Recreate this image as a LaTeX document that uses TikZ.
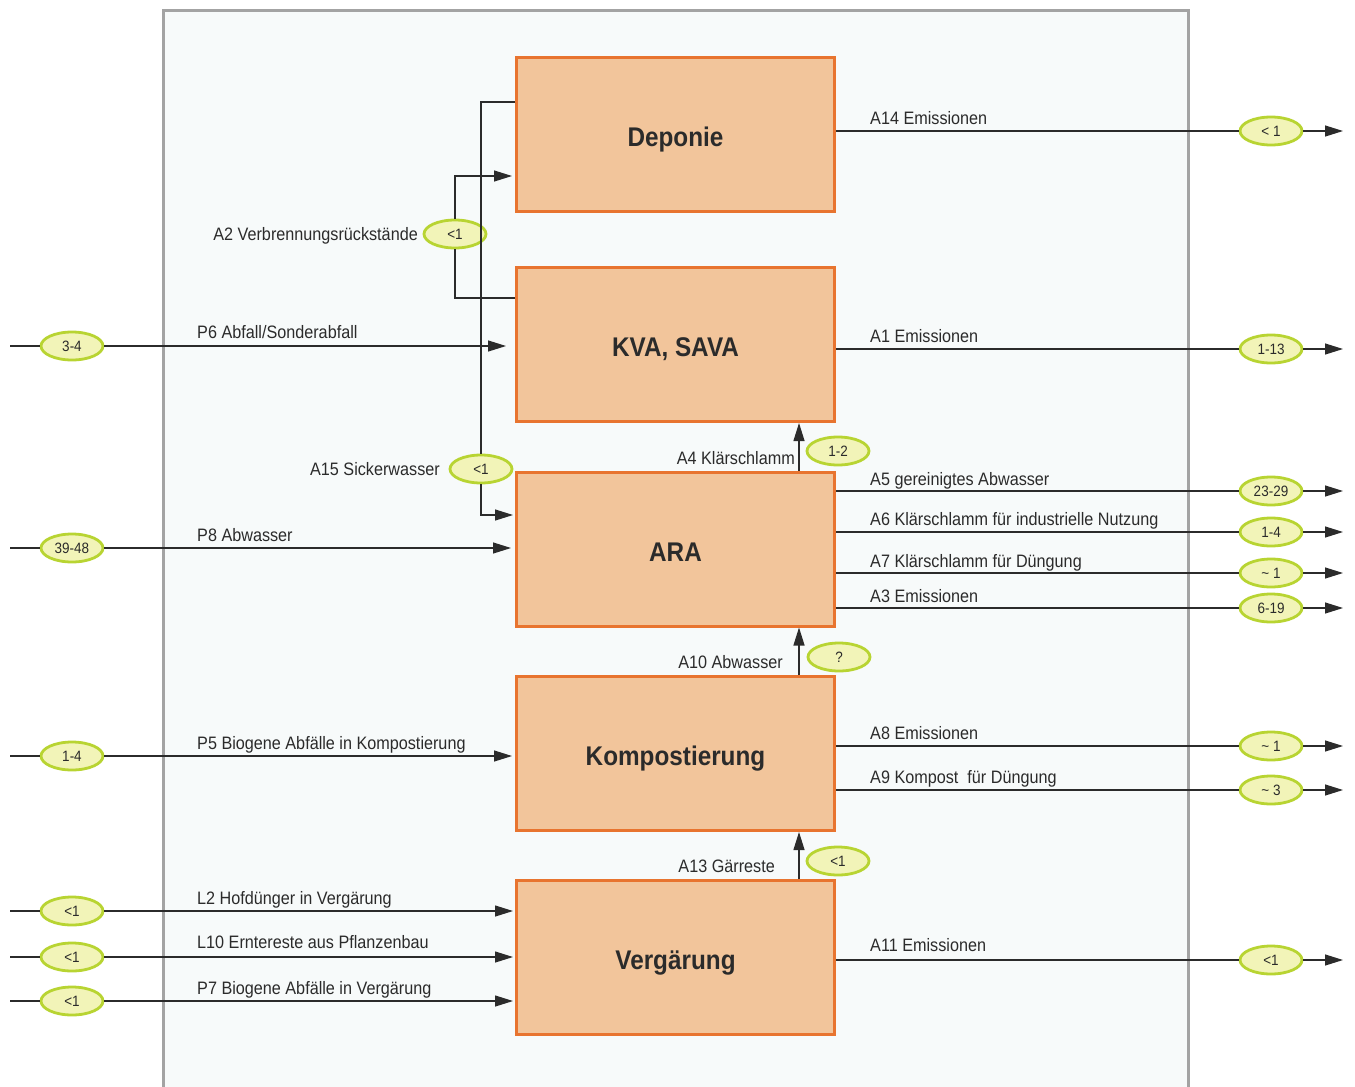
\documentclass[tikz,border=0pt]{standalone}
\usepackage{fontspec}
\setmainfont{Liberation Sans}[FakeStretch=0.9]
\usetikzlibrary{arrows.meta}
\usetikzlibrary{shapes.geometric}

\definecolor{boxfill}{HTML}{F2C59B}
\definecolor{boxline}{HTML}{E8742F}
\definecolor{valfill}{HTML}{F2F4B8}
\definecolor{valline}{HTML}{B8D432}
\definecolor{framefill}{HTML}{F7FAFA}
\definecolor{frameline}{HTML}{A3A3A3}
\definecolor{ink}{HTML}{2B2B2B}

\begin{document}
\begin{tikzpicture}[x=1pt,y=-1pt,
	proc/.style={draw=boxline, fill=boxfill, line width=3pt, minimum width=318pt, minimum height=154pt, text height=24pt, text depth=0pt, font=\fontsize{27}{30}\selectfont\bfseries, text=ink},
	val/.style={ellipse, draw=valline, fill=valfill, line width=2.8pt, minimum width=62pt, minimum height=28pt, inner sep=0pt, font=\fontsize{15}{16}\selectfont, text=ink},
	lbl/.style={font=\fontsize{18}{20}\selectfont, text=ink, inner sep=0pt},
	flow/.style={draw=ink, line width=1.2pt},
	arr/.style={-{Triangle[length=18pt,width=11pt]}}]
	\useasboundingbox (0,0) rectangle (1355,1087);
	\draw[draw=frameline, fill=framefill, line width=3pt] (163,10) rectangle (1188,1100);

	% processes
	\node[proc] (b1) at (675.5,134.5) {Deponie};
	\node[proc] (b2) at (675.5,344.5) {KVA, SAVA};
	\node[proc] (b3) at (675.5,549) {ARA};
	\node[proc] (b4) at (675.5,753.5) {Kompostierung};
	\node[proc] (b5) at (675.5,957.5) {Vergärung};

	% values on the right
	\node[val] (a14) at (1271,131) {< 1};
	\node[val] (a1) at (1271,349) {1-13};
	\node[val] (a5) at (1271,491) {23-29};
	\node[val] (a6) at (1271,532) {1-4};
	\node[val] (a7) at (1271,573) {\char"007E\ 1};
	\node[val] (a3) at (1271,608) {6-19};
	\node[val] (a8) at (1271,746) {\char"007E\ 1};
	\node[val] (a9) at (1271,790) {\char"007E\ 3};
	\node[val] (a11) at (1271,960) {<1};

	\coordinate (o14) at (1343,131);
	\coordinate (o1) at (1343,349);
	\coordinate (o5) at (1343,491);
	\coordinate (o6) at (1343,532);
	\coordinate (o7) at (1343,573);
	\coordinate (o3) at (1343,608);
	\coordinate (o8) at (1343,746);
	\coordinate (o9) at (1343,790);
	\coordinate (o11) at (1343,960);

	\draw[flow] (b1.east |- a14) -- (a14.west);
	\draw[flow,arr] (a14.east) -- (o14);
	\draw[flow] (b2.east |- a1) -- (a1.west);
	\draw[flow,arr] (a1.east) -- (o1);
	\draw[flow] (b3.east |- a5) -- (a5.west);
	\draw[flow,arr] (a5.east) -- (o5);
	\draw[flow] (b3.east |- a6) -- (a6.west);
	\draw[flow,arr] (a6.east) -- (o6);
	\draw[flow] (b3.east |- a7) -- (a7.west);
	\draw[flow,arr] (a7.east) -- (o7);
	\draw[flow] (b3.east |- a3) -- (a3.west);
	\draw[flow,arr] (a3.east) -- (o3);
	\draw[flow] (b4.east |- a8) -- (a8.west);
	\draw[flow,arr] (a8.east) -- (o8);
	\draw[flow] (b4.east |- a9) -- (a9.west);
	\draw[flow,arr] (a9.east) -- (o9);
	\draw[flow] (b5.east |- a11) -- (a11.west);
	\draw[flow,arr] (a11.east) -- (o11);

	\node[lbl, anchor=base west] (t14) at (870,124) {A14 Emissionen};
	\node[lbl, anchor=base west] (t1) at (870,342) {A1 Emissionen};
	\node[lbl, anchor=base west] (t5) at (870,485) {A5 gereinigtes Abwasser};
	\node[lbl, anchor=base west] (t6) at (870,525) {A6 Klärschlamm für industrielle Nutzung};
	\node[lbl, anchor=base west] (t7) at (870,567) {A7 Klärschlamm für Düngung};
	\node[lbl, anchor=base west] (t3) at (870,602) {A3 Emissionen};
	\node[lbl, anchor=base west] (t8) at (870,739) {A8 Emissionen};
	\node[lbl, anchor=base west] (t9) at (870,783) {A9 Kompost\ \ für Düngung};
	\node[lbl, anchor=base west] (t11) at (870,951) {A11 Emissionen};

	% values on the left
	\node[val] (p6) at (72,346) {3-4};
	\node[val] (p8) at (72,548) {39-48};
	\node[val] (p5) at (72,756) {1-4};
	\node[val] (l2) at (72,911) {<1};
	\node[val] (l10) at (72,957) {<1};
	\node[val] (p7) at (72,1001) {<1};

	\coordinate (i6) at (10,346);
	\coordinate (i8) at (10,548);
	\coordinate (i5) at (10,756);
	\coordinate (i2) at (10,911);
	\coordinate (i10) at (10,957);
	\coordinate (i7) at (10,1001);

	\draw[flow] (i6) -- (p6.west);
	\draw[flow,arr,shorten >=9pt] (p6.east) -- (b2.west |- p6);
	\draw[flow] (i8) -- (p8.west);
	\draw[flow,arr,shorten >=4pt] (p8.east) -- (b3.west |- p8);
	\draw[flow] (i5) -- (p5.west);
	\draw[flow,arr,shorten >=3pt] (p5.east) -- (b4.west |- p5);
	\draw[flow] (i2) -- (l2.west);
	\draw[flow,arr,shorten >=2pt] (l2.east) -- (b5.west |- l2);
	\draw[flow] (i10) -- (l10.west);
	\draw[flow,arr,shorten >=2pt] (l10.east) -- (b5.west |- l10);
	\draw[flow] (i7) -- (p7.west);
	\draw[flow,arr,shorten >=2pt] (p7.east) -- (b5.west |- p7);

	\node[lbl, anchor=base west] (s6) at (197,338) {P6 Abfall/Sonderabfall};
	\node[lbl, anchor=base west] (s8) at (197,541) {P8 Abwasser};
	\node[lbl, anchor=base west] (s5) at (197,749) {P5 Biogene Abfälle in Kompostierung};
	\node[lbl, anchor=base west] (s2) at (197,904) {L2 Hofdünger in Vergärung};
	\node[lbl, anchor=base west] (s10) at (197,948) {L10 Erntereste aus Pflanzenbau};
	\node[lbl, anchor=base west] (s7) at (197,994) {P7 Biogene Abfälle in Vergärung};

	% residues and leachate
	\node[val] (a2) at (455,234) {<1};
	\node[val] (a15) at (481,469) {<1};
	\draw[flow] ([yshift=46.5pt]b2.west) -| (a2.south);
	\draw[flow,arr,shorten >=3pt] (a2.north) |- ([yshift=-41.5pt]b1.west);
	\draw[flow] ([yshift=32.5pt]b1.west) -| (a15.north);
	\draw[flow,arr,shorten >=2pt] (a15.south) |- ([yshift=34pt]b3.west);
	\node[lbl, anchor=base east] (s2a) at (418,240) {A2 Verbrennungsrückstände};
	\node[lbl, anchor=base east] (s15) at (440,475) {A15 Sickerwasser};

	% flows between processes
	\node[val] (a4) at (838,451) {1-2};
	\node[val] (a10) at (839,657) {?};
	\node[val] (a13) at (838,861) {<1};
	\draw[flow,arr] ([xshift=123.5pt]b3.north) -- ([xshift=123.5pt]b2.south);
	\draw[flow,arr] ([xshift=123.5pt]b4.north) -- ([xshift=123.5pt]b3.south);
	\draw[flow,arr] ([xshift=123.5pt]b5.north) -- ([xshift=123.5pt]b4.south);
	\node[lbl, anchor=base east] (t4) at (795,464) {A4 Klärschlamm};
	\node[lbl, anchor=base east] (t10) at (783,668) {A10 Abwasser};
	\node[lbl, anchor=base east] (t13) at (775,872) {A13 Gärreste};
\end{tikzpicture}
\end{document}
